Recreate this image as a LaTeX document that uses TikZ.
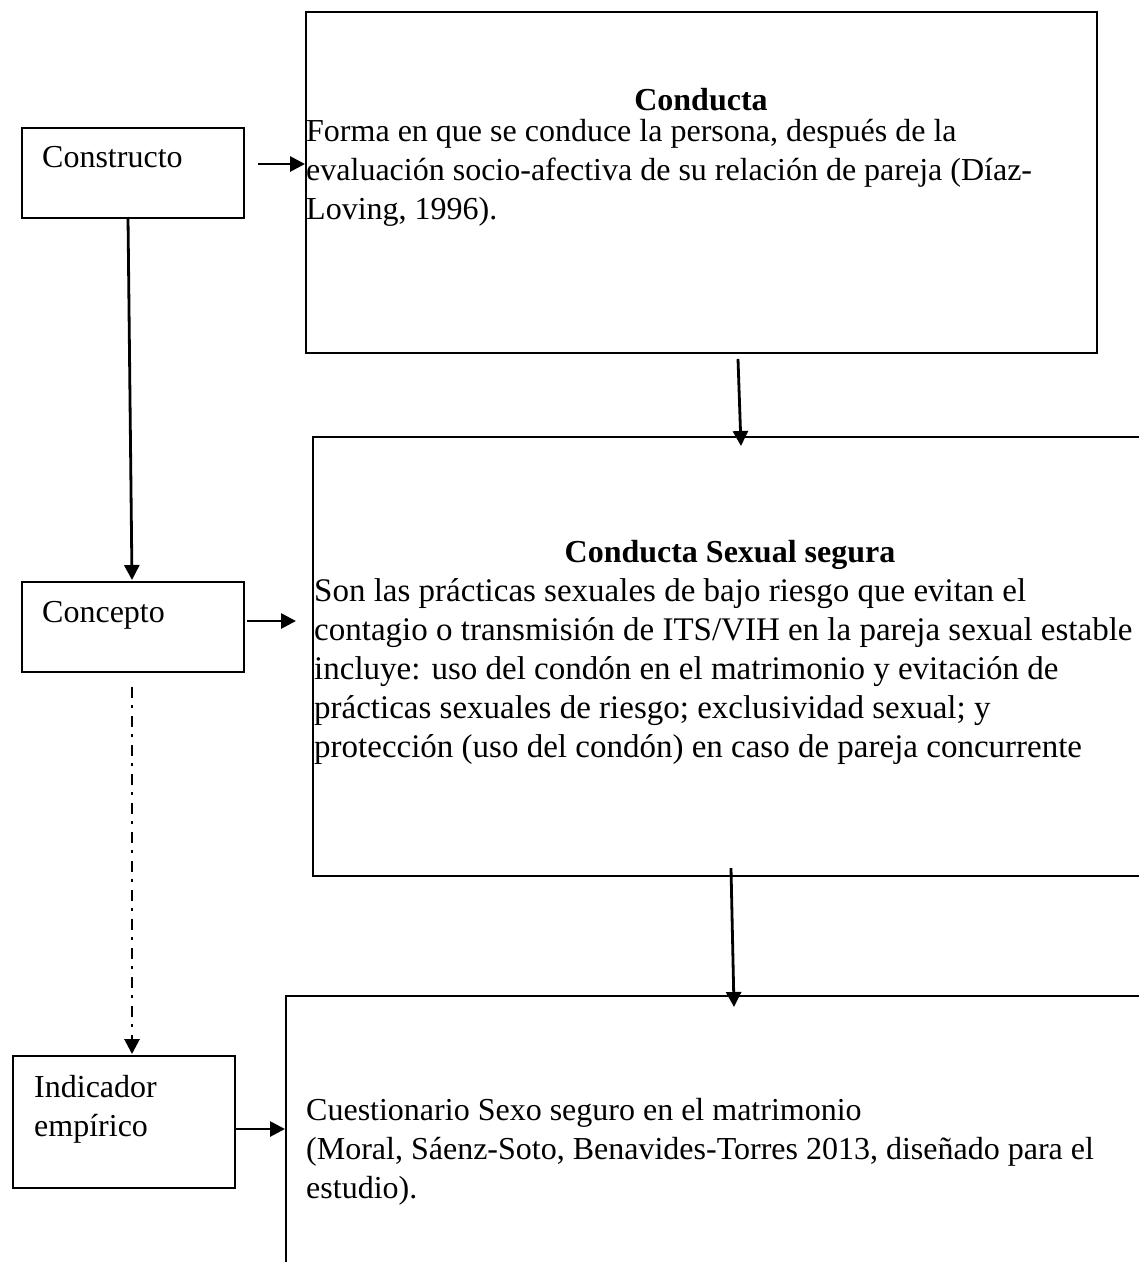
\documentclass[tikz,border=0pt]{standalone}
\usepackage{fontspec}
\setmainfont{Liberation Serif}
\usetikzlibrary{arrows.meta}
\begin{document}
\begin{tikzpicture}[x=1pt,y=-1pt,
  every node/.style={inner sep=0pt, font=\fontsize{32}{39}\selectfont},
  frame/.style={draw, line width=2pt},
  smallbox/.style={draw, line width=2pt, anchor=north west, minimum width=222pt, minimum height=90pt},
  txt/.style={anchor=base west, align=left},
  head/.style={anchor=base, font=\fontsize{32}{39}\selectfont\bfseries},
  link/.style={line width=2.8pt, -{Triangle[length=15pt,width=15pt]}},
  dashdot/.style={line width=2.8pt, dash pattern=on 11pt off 7pt on 3pt off 8pt, -{Triangle[length=15pt,width=15pt]}}]
\useasboundingbox (0,0) rectangle (1139,1262);
\clip (0,0) rectangle (1139,1262);
\fill[white] (0,0) rectangle (1139,1262);

% left column: the three labelled boxes
\node[smallbox] (constructo) at (21,127) {};
\node[txt] (constructoT) at (42,167) {Constructo};
\node[smallbox] (concepto) at (21,581) {};
\node[txt] (conceptoT) at (42,622) {Concepto};
\node[smallbox, minimum width=222pt, minimum height=132pt] (indicador) at (12,1055) {};
% multi-line nodes: base anchor sits on the last line
\node[txt] (indicadorT) at (34,1136) {Indicador\\empírico};

% right column: the definition boxes (running off the page)
\draw[frame] (306,12) rectangle (1097,353);
\draw[frame] (1160,437) -- (313,437) -- (313,876) -- (1160,876);
\draw[frame] (1160,996) -- (286,996) -- (286,1300);

\node[head] (condT) at (701,110) {Conducta};
\node[txt] (condB) at (306,219) {Forma en que se conduce la persona, después de la\\
evaluación socio-afectiva de su relación de pareja (Díaz-\\
Loving, 1996).};

\node[head] (csT) at (730,562) {Conducta Sexual segura};
\node[txt, font=\fontsize{33}{39}\selectfont] (csB) at (314,757) {Son las prácticas sexuales de bajo riesgo que evitan el\\
contagio o transmisión de ITS/VIH en la pareja sexual estable\\
incluye: uso del condón en el matrimonio y evitación de\\
prácticas sexuales de riesgo; exclusividad sexual; y\\
protección (uso del condón) en caso de pareja concurrente};

\node[txt] (ind) at (306,1198) {Cuestionario Sexo seguro en el matrimonio\\
(Moral, Sáenz-Soto, Benavides-Torres 2013, diseñado para el\\
estudio).};

% connector end points
\coordinate (a1s) at (258,164);  \coordinate (a1e) at (305,164);
\coordinate (a2s) at (247,621);  \coordinate (a2e) at (296,621);
\coordinate (a3s) at (236,1129); \coordinate (a3e) at (285,1129);
\coordinate (v1s) at (128,217);  \coordinate (v1e) at (132,580);
\coordinate (v2s) at (132,687);  \coordinate (v2e) at (132,1054);
\coordinate (d1s) at (738,359);  \coordinate (d1e) at (741,446);
\coordinate (d2s) at (731,868);  \coordinate (d2e) at (734,1007);

\draw[link] (a1s) -- (a1e);
\draw[link] (a2s) -- (a2e);
\draw[link] (a3s) -- (a3e);
\draw[link] (v1s) -- (v1e);
\draw[dashdot] (v2s) -- (v2e);
\draw[link] (d1s) -- (d1e);
\draw[link] (d2s) -- (d2e);
\end{tikzpicture}
\end{document}
